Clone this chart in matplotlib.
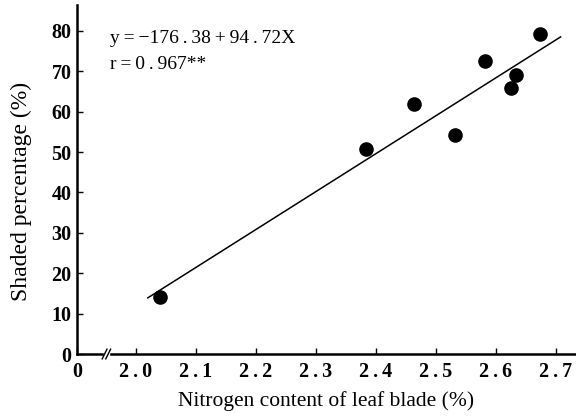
import matplotlib
matplotlib.use("Agg")
import matplotlib.pyplot as plt

# data
nitrogen = [2.04, 2.383, 2.463, 2.532, 2.582, 2.625, 2.633, 2.673]
shaded = [14.1, 50.7, 62.0, 54.2, 72.5, 65.8, 69.0, 79.2]
fit_x = [2.02, 2.708]
fit_y = [13.9, 78.5]
xticks = [2.0, 2.1, 2.2, 2.3, 2.4, 2.5, 2.6, 2.7]
xtick_labels = ['2\u2009.\u20090', '2\u2009.\u20091', '2\u2009.\u20092', '2\u2009.\u20093',
                '2\u2009.\u20094', '2\u2009.\u20095', '2\u2009.\u20096', '2\u2009.\u20097']
yticks = [0, 10, 20, 30, 40, 50, 60, 70, 80]

ZERO_POS = 1.902  # position of the "0" on the broken x axis

plt.rcParams['font.family'] = ['Liberation Serif', 'DejaVu Serif']

fig = plt.figure(figsize=(5.76, 4.16), dpi=100)
ax = fig.add_axes([77/576, 62/416, 498/576, 349/416])

ax.scatter(nitrogen, shaded, s=90, color='black', zorder=3)
ax.plot(fit_x, fit_y, color='black', lw=1.1)

ax.set_xlim(ZERO_POS, 2.732)
ax.set_ylim(0, 86.4)
ax.spines['top'].set_visible(False)
ax.spines['right'].set_visible(False)
ax.spines['left'].set_linewidth(1.8)
ax.spines['bottom'].set_linewidth(1.8)

ax.set_xticks([ZERO_POS] + xticks)
ax.set_xticklabels(['0'] + xtick_labels)
ax.set_yticks(yticks)
ax.set_yticklabels([str(v) for v in yticks])
ax.tick_params(direction='in', length=4, width=1, labelsize=14.5, pad=6)
ax.tick_params(axis='y', pad=4)
for lab in ax.get_xticklabels() + ax.get_yticklabels():
    lab.set_fontweight('bold')

# axis break marks
for dx in (0.0, 0.006):
    x0 = 1.948 + dx
    ax.plot([x0 - 0.004, x0 + 0.004], [-1.2, 1.2], color='black', lw=1,
            clip_on=False, zorder=5)
ax.plot([1.949, 1.954], [0, 0], color='white', lw=2.5, clip_on=False, zorder=4)

ax.set_xlabel('Nitrogen content of leaf blade (%)', fontsize=15.5, labelpad=6)
ax.set_ylabel('Shaded percentage (%)', fontsize=17)
ax.yaxis.set_label_coords(-0.091, 0.467)

ax.text(0.066, 0.905, 'y\u2009=\u2009\u2212176\u2009.\u200938\u2009+\u200994\u2009.\u200972X',
        transform=ax.transAxes, fontsize=14, va='center', ha='left')
ax.text(0.066, 0.83, 'r\u2009=\u20090\u2009.\u2009967**', transform=ax.transAxes,
        fontsize=14, va='center', ha='left')

fig.savefig('out.png', dpi=100)
